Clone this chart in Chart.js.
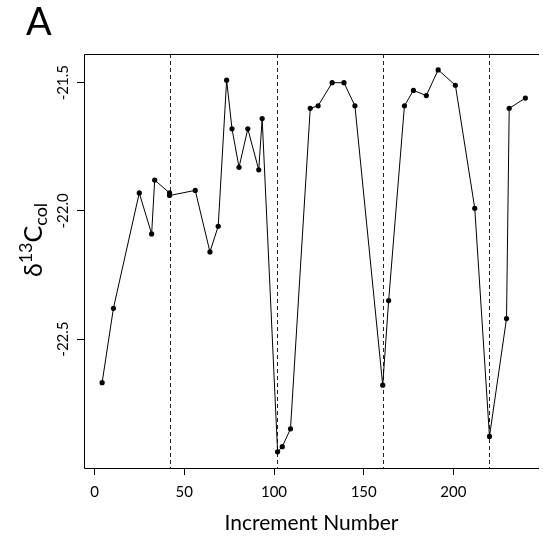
<!DOCTYPE html>
<html>
<head>
<meta charset="utf-8">
<script src="https://cdn.jsdelivr.net/npm/chart.js@4"></script>
<style>
  html, body { margin: 0; padding: 0; background: #fff; }
</style>
</head>
<body>
<canvas id="isoChart" width="543" height="541"></canvas>
<script>
// increment number along the growth axis, and collagen d13C for each
const increments = [4.2, 10.5, 24.9, 31.8, 33.5, 41.8, 41.8, 56.1, 64.3, 68.9,
    73.6, 76.6, 80.5, 85.4, 91.5, 93.4, 102.0, 104.6, 109.2, 120.2,
    124.6, 132.4, 139.0, 145.1, 160.6, 163.9, 172.7, 177.7, 184.9, 191.5,
    201.1, 211.9, 220.1, 229.6, 231.1, 240.1];
const d13c = [-22.67, -22.38, -21.93, -22.09, -21.88, -21.93, -21.94, -21.92, -22.16, -22.06,
    -21.49, -21.68, -21.83, -21.68, -21.84, -21.64, -22.94, -22.92, -22.85, -21.60,
    -21.59, -21.50, -21.50, -21.59, -22.68, -22.35, -21.59, -21.53, -21.55, -21.45,
    -21.51, -21.99, -22.88, -22.42, -21.60, -21.56];

const xTicks = [0, 50, 100, 150, 200];
const yTicks = [-21.5, -22.0, -22.5];
// increments where a new year starts
const breaks = [42, 101.5, 160.5, 220];

const FONT = 'Lato, "Open Sans", sans-serif';

const decor = {
    id: 'decor',
    beforeDatasetsDraw(chart) {
        const { ctx, chartArea: a, scales: { x } } = chart;
        ctx.save();
        ctx.strokeStyle = '#222';
        ctx.lineWidth = 1;
        ctx.setLineDash([4, 3]);
        breaks.forEach(b => {
            const px = Math.round(x.getPixelForValue(b)) + 0.5;
            ctx.beginPath();
            ctx.moveTo(px, a.top);
            ctx.lineTo(px, a.bottom);
            ctx.stroke();
        });
        ctx.restore();
    },
    afterDraw(chart) {
        const { ctx, chartArea: a, scales: { y } } = chart;
        ctx.save();
        // frame: left, top and bottom edges
        ctx.strokeStyle = '#000';
        ctx.lineWidth = 1;
        ctx.beginPath();
        ctx.moveTo(a.right, a.top + 0.5);
        ctx.lineTo(a.left + 0.5, a.top + 0.5);
        ctx.lineTo(a.left + 0.5, a.bottom + 0.5);
        ctx.lineTo(a.right, a.bottom + 0.5);
        ctx.stroke();

        ctx.fillStyle = '#000';
        ctx.textAlign = 'center';
        ctx.textBaseline = 'middle';

        // rotated y tick labels
        ctx.font = '15px ' + FONT;
        yTicks.forEach(v => {
            ctx.save();
            ctx.translate(63, y.getPixelForValue(v));
            ctx.rotate(-Math.PI / 2);
            ctx.fillText(v.toFixed(1), 0, 0);
            ctx.restore();
        });

        // x axis title
        ctx.font = '21px ' + FONT;
        ctx.fillText('Increment Number', (a.left + a.right) / 2, 523);

        // panel letter
        ctx.textAlign = 'left';
        ctx.textBaseline = 'alphabetic';
        ctx.font = '38px ' + FONT;
        ctx.fillText('A', 26, 35);

        // y axis title with super- and subscript
        const parts = [
            { t: '\u03b4', size: 25, dy: 0 },
            { t: '13', size: 18, dy: -10 },
            { t: 'C', size: 25, dy: 0 },
            { t: 'col', size: 18, dy: 5 }
        ];
        let total = 0;
        parts.forEach(p => {
            ctx.font = p.size + 'px ' + FONT;
            p.w = ctx.measureText(p.t).width;
            total += p.w;
        });
        ctx.translate(34, 240);
        ctx.rotate(-Math.PI / 2);
        let cx = -total / 2;
        parts.forEach(p => {
            ctx.font = p.size + 'px ' + FONT;
            ctx.fillText(p.t, cx, 8 + p.dy);
            cx += p.w;
        });
        ctx.restore();
    }
};

new Chart(document.getElementById('isoChart'), {
    type: 'scatter',
    data: {
        datasets: [{
            data: increments.map((v, i) => ({ x: v, y: d13c[i] })),
            showLine: true,
            borderColor: '#000',
            borderWidth: 1,
            tension: 0,
            pointRadius: 2.6,
            pointBackgroundColor: '#000',
            pointBorderWidth: 0
        }]
    },
    options: {
        responsive: false,
        animation: false,
        devicePixelRatio: 1,
        layout: { padding: { top: 54, right: 0, left: 0, bottom: 0 } },
        plugins: { legend: { display: false }, tooltip: { enabled: false } },
        scales: {
            x: {
                type: 'linear',
                min: -5.9,
                max: 247.7,
                afterBuildTicks: s => { s.ticks = xTicks.map(v => ({ value: v })); },
                afterFit: s => { s.height = 73; },
                border: { display: false },
                grid: { drawOnChartArea: false, drawTicks: true, tickLength: 7, color: '#000', lineWidth: 1 },
                ticks: { color: '#000', font: { family: FONT, size: 15 }, padding: 8, maxRotation: 0, autoSkip: false }
            },
            y: {
                type: 'linear',
                min: -23.003,
                max: -21.388,
                afterBuildTicks: s => { s.ticks = yTicks.map(v => ({ value: v })); },
                afterFit: s => { s.width = 84; },
                border: { display: false },
                grid: { drawOnChartArea: false, drawTicks: true, tickLength: 7, color: '#000', lineWidth: 1 },
                ticks: { display: false }
            }
        }
    },
    plugins: [decor]
});
</script>
</body>
</html>
